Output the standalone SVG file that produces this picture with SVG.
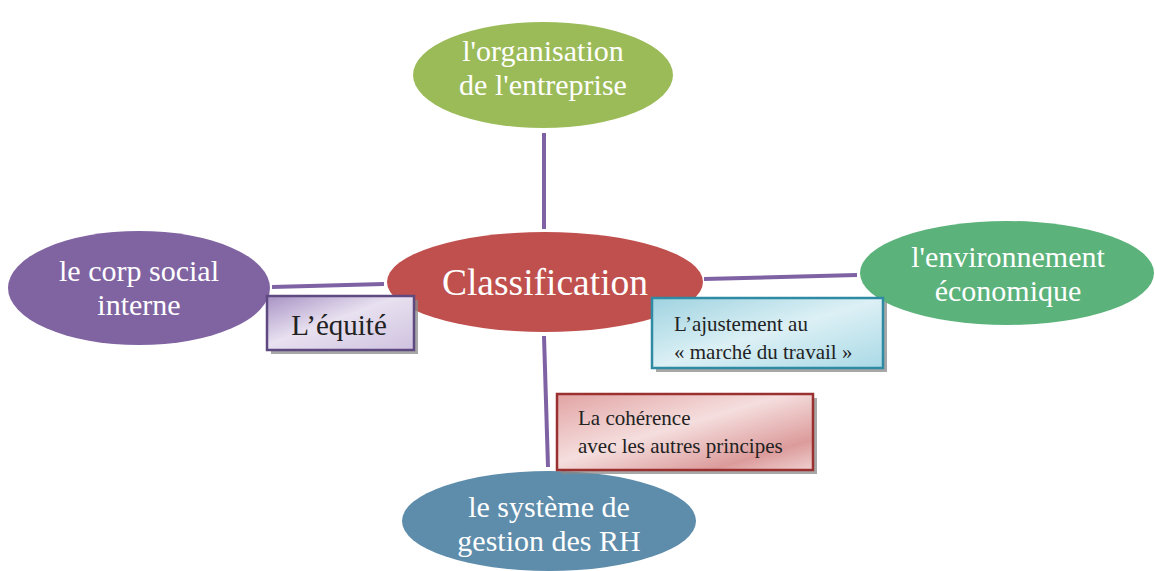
<svg xmlns="http://www.w3.org/2000/svg" width="1155" height="571" viewBox="0 0 1155 571">
  <style>
    text { font-family: "Liberation Serif", "Times New Roman", Times, "DejaVu Serif", serif; }
    .node-text { fill: #ffffff; text-anchor: middle; font-size: 30px; }
    .box-text { fill: #222222; font-size: 21px; }
    .link { stroke: #7f62a3; stroke-width: 4; stroke-linecap: butt; fill: none; }
    .shadow { fill: #8a8a8a; opacity: 0.75; }
  </style>
  <defs>
    <linearGradient id="gPurple" x1="0" y1="0" x2="1" y2="1">
      <stop offset="0" stop-color="#a892c4"/>
      <stop offset="0.45" stop-color="#e8e1f0"/>
      <stop offset="1" stop-color="#cfc2df"/>
    </linearGradient>
    <linearGradient id="gBlue" x1="0" y1="0" x2="1" y2="1">
      <stop offset="0" stop-color="#9fd3e0"/>
      <stop offset="0.5" stop-color="#dcf0f5"/>
      <stop offset="1" stop-color="#a9d9e6"/>
    </linearGradient>
    <linearGradient id="gRed" x1="0" y1="0" x2="1" y2="1">
      <stop offset="0" stop-color="#e2a3a3"/>
      <stop offset="0.45" stop-color="#f5dede"/>
      <stop offset="0.8" stop-color="#dc9b9b"/>
      <stop offset="1" stop-color="#f0d0d0"/>
    </linearGradient>
  </defs>

  <!-- connectors -->
  <g id="connectors">
    <line class="link" x1="544" y1="133" x2="544" y2="229"/>
    <line class="link" x1="272" y1="287" x2="384" y2="284"/>
    <line class="link" x1="704" y1="279" x2="857" y2="275"/>
    <line class="link" x1="544" y1="336" x2="548" y2="467"/>
  </g>

  <g id="node-organisation">
    <ellipse cx="543" cy="75" rx="130" ry="53" fill="#9bbb59"/>
    <text class="node-text" x="543" y="61">l'organisation</text>
    <text class="node-text" x="543" y="95">de l'entreprise</text>
  </g>

  <g id="node-classification">
    <ellipse cx="545" cy="282" rx="158" ry="50" fill="#c0504d"/>
    <text class="node-text" x="545" y="295" style="font-size:37.5px">Classification</text>
  </g>

  <g id="node-corp-social">
    <ellipse cx="139" cy="288" rx="131" ry="57" fill="#8064a2"/>
    <text class="node-text" x="139" y="281">le corp social</text>
    <text class="node-text" x="139" y="315">interne</text>
  </g>

  <g id="node-environnement">
    <ellipse cx="1007" cy="273" rx="147" ry="52" fill="#5bb27a"/>
    <text class="node-text" x="1008" y="267">l'environnement</text>
    <text class="node-text" x="1008" y="301">économique</text>
  </g>

  <g id="node-systeme">
    <ellipse cx="549" cy="521" rx="147" ry="50" fill="#5e8cab"/>
    <text class="node-text" x="549" y="517">le système de</text>
    <text class="node-text" x="549" y="551">gestion des RH</text>
  </g>

  <g id="box-equite">
    <rect class="shadow" x="271" y="300" width="147" height="54"/>
    <rect x="267" y="296" width="147" height="54" fill="url(#gPurple)" stroke="#5e4a80" stroke-width="2.5"/>
    <text class="box-text" x="339" y="335" style="font-size:29px" text-anchor="middle">L’équité</text>
  </g>

  <g id="box-ajustement">
    <rect class="shadow" x="656" y="302" width="231" height="70"/>
    <rect x="652" y="298" width="231" height="70" fill="url(#gBlue)" stroke="#2f8ba3" stroke-width="2.5"/>
    <text class="box-text" x="674" y="331">L’ajustement au</text>
    <text class="box-text" x="674" y="359">« marché du travail »</text>
  </g>

  <g id="box-coherence">
    <rect class="shadow" x="561" y="398" width="256" height="76"/>
    <rect x="557" y="394" width="256" height="76" fill="url(#gRed)" stroke="#9b3030" stroke-width="2.5"/>
    <text class="box-text" x="578" y="425">La cohérence</text>
    <text class="box-text" x="578" y="453">avec les autres principes</text>
  </g>
</svg>
